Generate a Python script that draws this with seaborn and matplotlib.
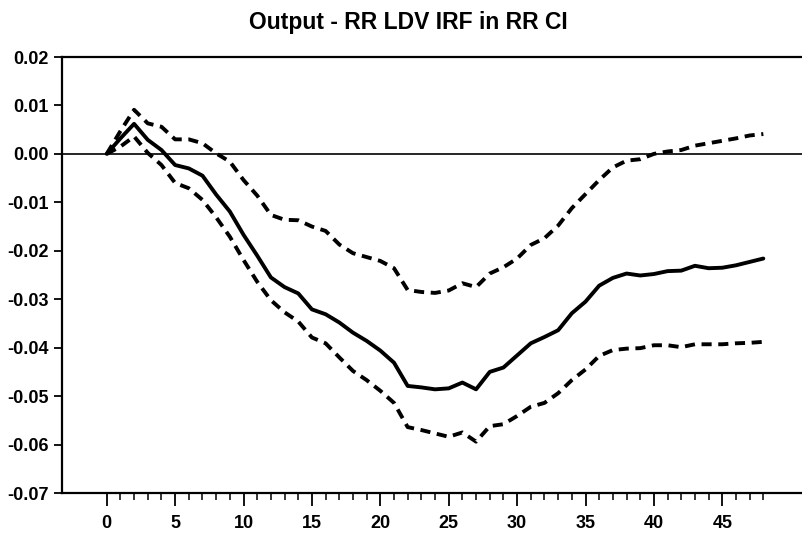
import matplotlib
matplotlib.use("Agg")
import matplotlib.pyplot as plt
import seaborn as sns
import pandas as pd
from matplotlib.ticker import FixedLocator

horizon = list(range(49))
irf = [0.0, 0.0032, 0.0062, 0.0029, 0.0008, -0.0023, -0.0030, -0.0045, -0.0084, -0.0119,
       -0.0167, -0.0210, -0.0255, -0.0275, -0.0288, -0.0321, -0.0331, -0.0348, -0.0369, -0.0386,
       -0.0406, -0.0431, -0.0479, -0.0482, -0.0486, -0.0484, -0.0472, -0.0486, -0.0450, -0.0441,
       -0.0416, -0.0391, -0.0378, -0.0364, -0.0329, -0.0305, -0.0272, -0.0256, -0.0247, -0.0251,
       -0.0248, -0.0242, -0.0241, -0.0231, -0.0236, -0.0235, -0.0230, -0.0223, -0.0216]
upper = [0.0, 0.0047, 0.0091, 0.0063, 0.0056, 0.0030, 0.0030, 0.0022, 0.0001, -0.0016,
         -0.0054, -0.0086, -0.0126, -0.0136, -0.0137, -0.0150, -0.0159, -0.0187, -0.0205, -0.0213,
         -0.0221, -0.0236, -0.0281, -0.0285, -0.0287, -0.0282, -0.0267, -0.0275, -0.0247, -0.0234,
         -0.0216, -0.0188, -0.0174, -0.0148, -0.0112, -0.0083, -0.0054, -0.0028, -0.0014, -0.0011,
         0.0000, 0.0005, 0.0008, 0.0017, 0.0022, 0.0027, 0.0032, 0.0038, 0.0041]
lower = [0.0, 0.0015, 0.0036, 0.0002, -0.0023, -0.0060, -0.0071, -0.0095, -0.0131, -0.0171,
         -0.0219, -0.0264, -0.0302, -0.0327, -0.0346, -0.0379, -0.0391, -0.0420, -0.0448, -0.0467,
         -0.0489, -0.0514, -0.0564, -0.0570, -0.0577, -0.0584, -0.0575, -0.0594, -0.0562, -0.0558,
         -0.0541, -0.0522, -0.0514, -0.0494, -0.0467, -0.0445, -0.0417, -0.0405, -0.0402, -0.0401,
         -0.0395, -0.0395, -0.0399, -0.0393, -0.0393, -0.0393, -0.0391, -0.0390, -0.0388]
y_ticks = [-0.07, -0.06, -0.05, -0.04, -0.03, -0.02, -0.01, 0.00, 0.01, 0.02]
x_major = [0, 5, 10, 15, 20, 25, 30, 35, 40, 45]
title = "Output - RR LDV IRF in RR CI"

sns.set_style("white")
plt.rcParams['font.family'] = ['Liberation Sans Narrow', 'Liberation Sans', 'DejaVu Sans']
plt.rcParams['font.weight'] = 'bold'
plt.rcParams['text.color'] = 'black'
plt.rcParams['xtick.color'] = 'black'
plt.rcParams['ytick.color'] = 'black'
plt.rcParams['xtick.labelcolor'] = 'black'
plt.rcParams['ytick.labelcolor'] = 'black'

df = pd.DataFrame({"h": horizon, "irf": irf, "upper": upper, "lower": lower})

fig = plt.figure(figsize=(8.03, 5.33), dpi=100)
ax = fig.add_axes([62/803, 1 - 493/533, 1 - 62/803, (493 - 57)/533])

ax.axhline(0, color="black", lw=1.2, zorder=1)
sns.lineplot(data=df, x="h", y="irf", ax=ax, color="black", lw=2.8, zorder=3)
for col in ["upper", "lower"]:
    sns.lineplot(data=df, x="h", y=col, ax=ax, color="black", lw=2.8,
                 linestyle=(0, (2.6, 1.7)), zorder=3)

ax.set_xlim(-3.27, 50.9)
ax.set_ylim(-0.07, 0.02)
ax.set_xlabel("")
ax.set_ylabel("")

ax.xaxis.set_major_locator(FixedLocator(x_major))
ax.xaxis.set_minor_locator(FixedLocator(horizon))
ax.set_xticklabels([str(v) for v in x_major])
ax.set_yticks(y_ticks)
ax.set_yticklabels([f"{v:.2f}" for v in y_ticks])

ax.tick_params(axis="x", which="major", direction="out", length=9.5, width=1.3,
               color="black", labelcolor="black", labelsize=13, pad=6, bottom=True)
ax.tick_params(axis="x", which="minor", direction="out", length=5, width=1.1,
               color="black", bottom=True)
ax.tick_params(axis="y", which="major", direction="out", length=5.5, width=1.3,
               color="black", labelcolor="black", labelsize=13, pad=4, left=True)
for lab in ax.get_xticklabels() + ax.get_yticklabels():
    lab.set_fontweight("bold")

for side in ["left", "bottom", "top"]:
    ax.spines[side].set_visible(True)
    ax.spines[side].set_color("black")
    ax.spines[side].set_linewidth(1.6)
ax.spines["right"].set_visible(False)

fig.text(408/803, 1 - 23/533, title, ha="center", va="center",
         fontsize=16.5, fontweight="bold", color="black")

fig.savefig("out.png", dpi=100, facecolor="white")
